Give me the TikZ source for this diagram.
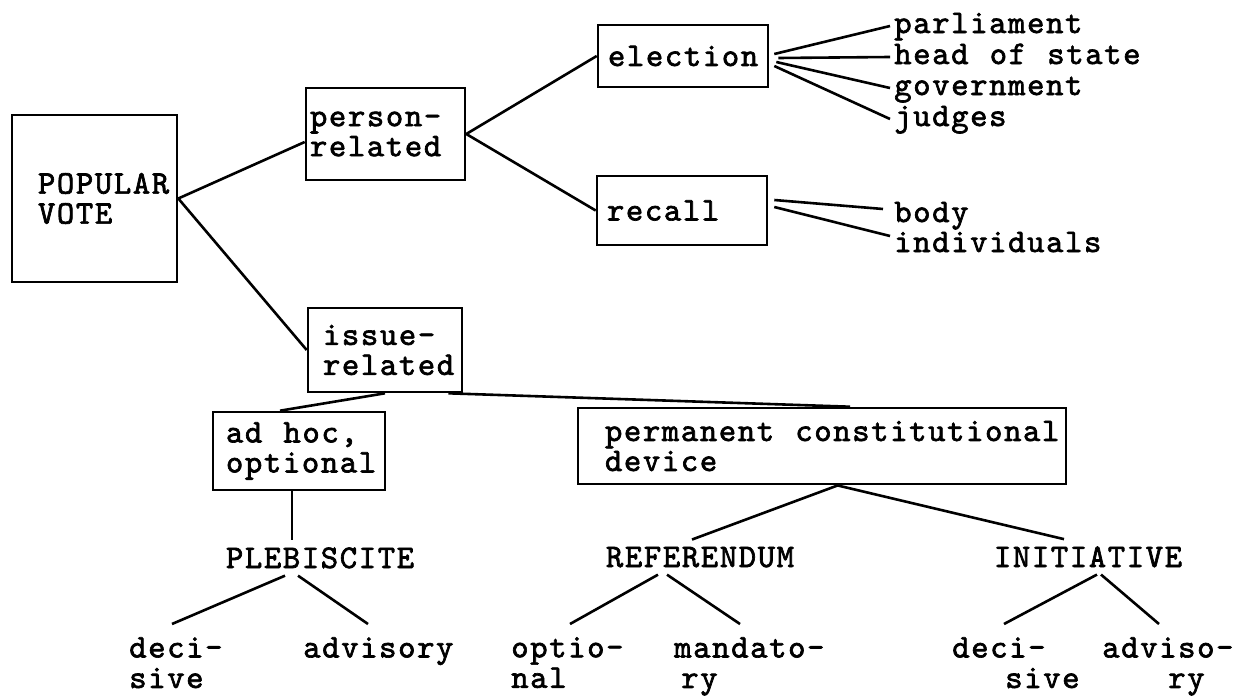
\documentclass[tikz,border=0pt]{standalone}
\usepackage{fontspec}
\newfontfamily\typer{lmmono10-regular.otf}[LetterSpace=5,WordSpace={1.12,0,0},FakeBold=2]
\hyphenpenalty=10000
\exhyphenpenalty=10000

\begin{document}
\begin{tikzpicture}[x=1pt, y=-1pt, line width=2.6pt,
            every node/.style = {font=\typer\fontsize{33}{30}\selectfont},
            box/.style = {draw, align=left, inner ysep=0pt,
                          execute at begin node={\spaceskip=0pt\relax}},
            leaf/.style = {anchor=base west, inner xsep=3pt, inner ysep=0pt,
                           text height=14pt, text depth=0pt},
            kind/.style = {anchor=base, inner sep=6pt},
            sub/.style = {anchor=north west, align=left, inner xsep=0pt, inner ysep=12pt,
                          font=\typer\fontsize{33}{30.5}\selectfont}]
\useasboundingbox (0,0) rectangle (1234,696);

% boxes
\node[box, minimum height=167, inner xsep=26pt, text width=113pt] (vote) at (94.5,198.5) {POPULAR\\VOTE};
\node[box, minimum height=92, inner xsep=4pt, text width=151pt] (person) at (385.5,134) {person-\\related};
\node[box, minimum height=84, inner xsep=15pt, text width=124pt] (issue) at (385,350) {issue-\\related};
\node[box, minimum height=62, inner xsep=10pt, text width=150pt] (election) at (683,56) {election};
\node[box, minimum height=69, inner xsep=10pt, text width=150pt] (recall) at (682,210.5) {recall};
\node[box, minimum height=78, inner xsep=13pt, text width=146pt] (adhoc) at (299,451) {ad~hoc,\\optional};
\node[box, minimum height=76, inner xsep=27pt, text width=434pt] (perm) at (822,446) {permanent~constitutional\\device};

% leaves on the right
\node[leaf] (parl) at (890,33) {parliament};
\node[leaf] (head) at (890,64) {head of state};
\node[leaf] (gov) at (890,95) {government};
\node[leaf] (judges) at (890,126) {judges};
\node[leaf] (body) at (890,222) {body};
\node[leaf] (indiv) at (890,252) {individuals};

% kinds
\node[kind] (pleb) at (320,568) {PLEBISCITE};
\node[kind] (ref) at (700,567) {REFERENDUM};
\node[kind] (init) at (1088,567) {INITIATIVE};

\node[sub] (dec1) at (128,624) {deci-\\sive};
\node[sub] (adv1) at (302,624) {advisory};
\node[sub] (opt) at (510,624) {optio-\\nal};
\node[sub] (mand) at (673,624) {mandato-\\\hspace*{7pt}ry};
\node[sub] (dec2) at (951,624) {deci-\\\hspace*{53pt}sive};
\node[sub] (adv2) at (1101,624) {adviso-\\\hspace*{66pt}ry};

% connectors
\draw (vote.east) -- ([yshift=-8pt]person.west);
\draw (vote.east) -- (issue.west);
\draw (person.east) -- (election.west);
\draw (person.east) -- (recall.west);

\draw ([xshift=5pt,yshift=2pt]election.east) -- (parl.west);
\draw ([xshift=9pt,yshift=-2pt]election.east) -- (head.west);
\draw ([xshift=7pt,yshift=-6pt]election.east) -- (gov.west);
\draw ([xshift=5pt,yshift=-10pt]election.east) -- (judges.west);
\draw ([xshift=6pt,yshift=10.5pt]recall.east) -- ([xshift=-7pt,yshift=6pt]body.west);
\draw ([xshift=6pt,yshift=3.5pt]recall.east) -- ([yshift=9pt]indiv.west);

\draw (issue.south) -- ([xshift=-19pt]adhoc.north);
\draw ([xshift=-15pt]issue.south east) -- ([xshift=28pt]perm.north);

\draw ([xshift=-7pt]adhoc.south) -- ([xshift=-7pt]adhoc.south |- pleb.north);
\draw ([xshift=-35pt]pleb.south) -- ([xshift=44pt]dec1.north west);
\draw ([xshift=-22pt]pleb.south) -- ([xshift=66pt]adv1.north west);

\draw ([xshift=16pt]perm.south) -- ([xshift=-8pt]ref.north);
\draw ([xshift=15pt]perm.south) -- ([xshift=-24pt]init.north);
\draw ([xshift=-42pt]ref.south) -- ([xshift=60pt]opt.north west);
\draw ([xshift=-33pt]ref.south) -- ([xshift=67pt]mand.north west);
\draw ([xshift=9pt]init.south) -- ([xshift=53pt]dec2.north west);
\draw ([xshift=13pt]init.south) -- ([xshift=58pt]adv2.north west);

\end{tikzpicture}
\end{document}
